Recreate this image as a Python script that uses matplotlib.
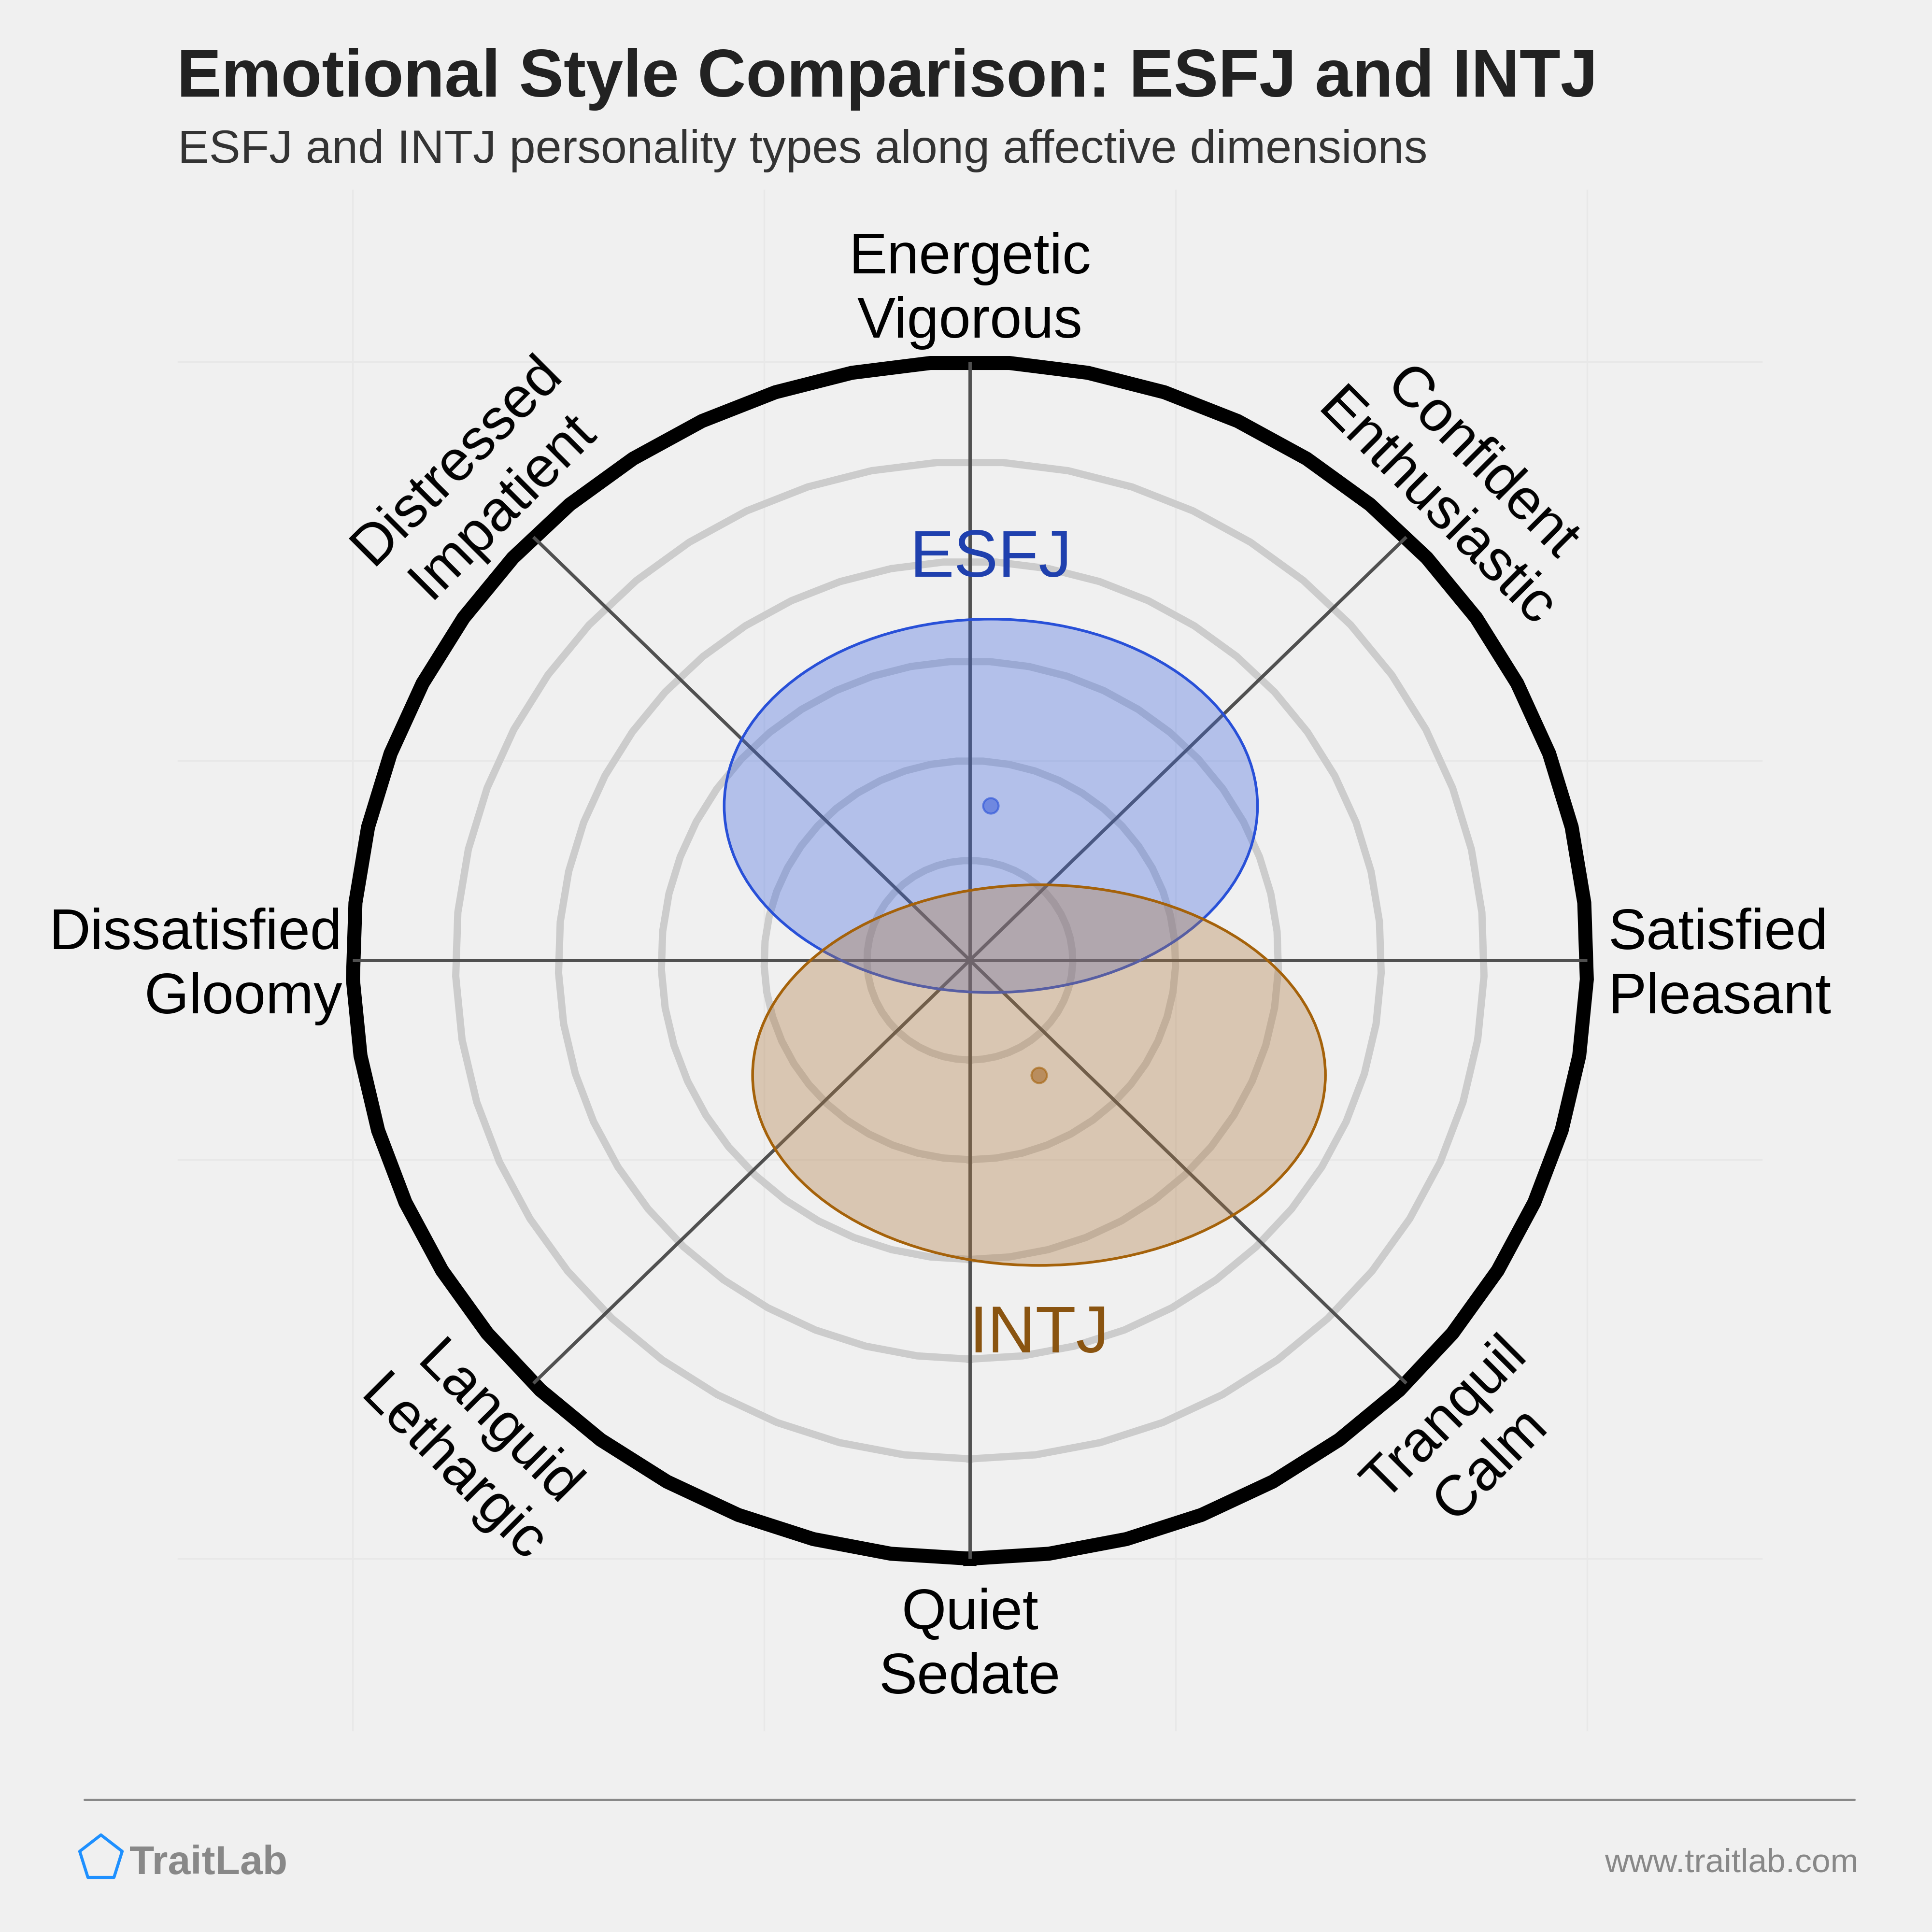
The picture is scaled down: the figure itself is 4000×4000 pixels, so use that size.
import numpy as np
import matplotlib
matplotlib.use("Agg")
import matplotlib.pyplot as plt
from matplotlib.patches import Ellipse, Polygon
from matplotlib.colors import to_rgba

plt.rcParams['font.family'] = ['Liberation Sans', 'DejaVu Sans']

# ---------------- data ----------------
types = ['ESFJ', 'INTJ']
center_x = [0.034, 0.112]     # valence (pleasant +)
center_y = [0.258, -0.192]    # arousal (energetic +)
spread_x = [0.432, 0.464]     # semi-axis along valence
spread_y = [0.312, 0.318]     # semi-axis along arousal
edge_colors = ['#2850d8', '#a5620a']
fill_colors = ['#4169e1', '#b07a40']
dot_faces = ['#6f88e0', '#b98d5e']
label_colors = ['#1f40ae', '#8a5410']
type_label_y = [0.641, -0.655]

axis_labels = ['Satisfied\nPleasant', 'Confident\nEnthusiastic', 'Energetic\nVigorous',
               'Distressed\nImpatient', 'Dissatisfied\nGloomy', 'Languid\nLethargic',
               'Quiet\nSedate', 'Tranquil\nCalm']
axis_angles = [0, 45, 90, 135, 180, 225, 270, 315]
ring_levels = [1/6, 2/6, 3/6, 4/6, 5/6]
grid_ticks = [-1, -1/3, 1/3, 1]

title = 'Emotional Style Comparison: ESFJ and INTJ'
subtitle = 'ESFJ and INTJ personality types along affective dimensions'

# ---------------- layout ----------------
W = 4000
cx_px, cy_px = 2008, 1988
rx_px, ry_px = 1278, 1239

fig = plt.figure(figsize=(40, 40), dpi=100)
fig.patch.set_facecolor('#f0f0f0')
ax = fig.add_axes([0, 0, 1, 1])
ax.set_xlim(-cx_px / rx_px, (W - cx_px) / rx_px)
ax.set_ylim(-(W - cy_px) / ry_px, cy_px / ry_px)
ax.axis('off')

# faint background grid
plot_half_x, plot_half_y = 1.2825, 1.2865
for t in grid_ticks:
    ax.plot([t, t], [-plot_half_y, plot_half_y], color='#e8e8e8', lw=2.5, zorder=0.5)
    ax.plot([-plot_half_x, plot_half_x], [t, t], color='#e8e8e8', lw=2.5, zorder=0.5)

# rings (49-gon)
theta = np.deg2rad(-90 + np.arange(50) * 360 / 49)
for r in ring_levels:
    ax.plot(r * np.cos(theta), r * np.sin(theta), color='#cccccc', lw=10.8,
            zorder=1, solid_joinstyle='miter')
ax.plot(np.cos(theta), np.sin(theta), color='black', lw=20.9, zorder=2,
        solid_joinstyle='miter')

# spokes
for a in axis_angles:
    ar = np.deg2rad(a)
    ax.plot([0, np.cos(ar)], [0, np.sin(ar)], color='#505050', lw=5, zorder=3,
            solid_capstyle='butt')

# ellipses
for i in range(len(types)):
    e = Ellipse((center_x[i], center_y[i]), 2 * spread_x[i], 2 * spread_y[i],
                facecolor=to_rgba(fill_colors[i], 0.35), edgecolor=edge_colors[i],
                lw=4, zorder=4 + i)
    ax.add_patch(e)
for i in range(len(types)):
    ax.plot(center_x[i], center_y[i], 'o', ms=23, mfc=dot_faces[i],
            mec=to_rgba(edge_colors[i], 0.6), mew=3, zorder=7)
    ax.text(center_x[i], type_label_y[i], types[i], color=label_colors[i],
            fontsize=99, ha='center', va='baseline', zorder=8)

# axis labels
label_pos = {
    0: (1.034, -0.0105, 0, 'left'),
    45: (0.790, 0.791, -45, 'center'),
    90: (0.0, 1.119, 0, 'center'),
    135: (-0.793, 0.797, 45, 'center'),
    180: (-1.017, -0.0105, 0, 'right'),
    225: (-0.803, -0.815, -45, 'center'),
    270: (0.0, -1.147, 0, 'center'),
    315: (0.808, -0.805, 45, 'center'),
}
for lab, a in zip(axis_labels, axis_angles):
    x, y, rot, ha = label_pos[a]
    ax.text(x, y, lab, fontsize=85.5, ha=ha, va='center', rotation=rot,
            rotation_mode='anchor', multialignment='center' if ha == 'center' else ha,
            linespacing=1.255, color='black', zorder=8)

# ---------------- overlay (title / footer) ----------------
ov = fig.add_axes([0, 0, 1, 1], facecolor='none')
ov.set_xlim(0, W)
ov.set_ylim(W, 0)
ov.axis('off')

ov.text(366, 200, title, fontsize=99.8, fontweight='bold', color='#222222',
        ha='left', va='baseline')
ov.text(368, 337, subtitle, fontsize=70, color='#333333', ha='left', va='baseline')

ov.plot([175, 3839], [3726, 3726], color='#888888', lw=3.6, solid_capstyle='round')
pent = Polygon([[209, 3799], [253, 3833], [236, 3887], [182, 3887], [165, 3833]],
               closed=True, fill=False, edgecolor='#1e90ff', lw=4.5, joinstyle='round')
ov.add_patch(pent)
ov.text(268, 3880, 'TraitLab', fontsize=60.5, fontweight='bold', color='#888888',
        ha='left', va='baseline')
ov.text(3848, 3875, 'www.traitlab.com', fontsize=50, color='#888888',
        ha='right', va='baseline')

fig.savefig('out.png', dpi=100, facecolor=fig.get_facecolor())
